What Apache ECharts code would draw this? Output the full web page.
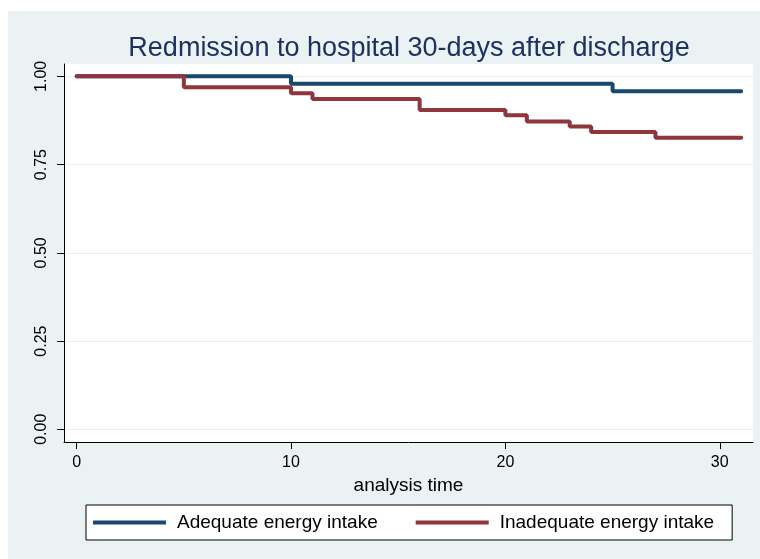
<!DOCTYPE html>
<html>
<head>
<meta charset="utf-8">
<script src="https://cdn.jsdelivr.net/npm/echarts@6/dist/echarts.min.js"></script>
<style>
  html, body { margin: 0; padding: 0; background: #ffffff; }
  #bg { position: absolute; left: 8px; top: 11px; width: 752px; height: 548px; background: #eaf2f3; }
  #chart { position: absolute; left: 0; top: 0; width: 760px; height: 559px; }
</style>
</head>
<body>
<div id="bg"></div>
<div id="chart"></div>
<script>
const titleText = 'Redmission to hospital 30-days after discharge';
const xAxisName = 'analysis time';
const seriesNames = ['Adequate energy intake', 'Inadequate energy intake'];
const xTicks = [0, 10, 20, 30];
const yTicks = [0, 0.25, 0.5, 0.75, 1.0];
const adequateTime = [0, 10, 25, 31];
const adequateSurv = [1.0, 0.979, 0.958, 0.958];
const inadequateTime = [0, 5, 10, 11, 16, 20, 21, 23, 24, 27, 31];
const inadequateSurv = [1.0, 0.969, 0.952, 0.936, 0.905, 0.890, 0.872, 0.858, 0.842, 0.826, 0.826];

const colors = ['#1a476f', '#90353b'];
const font = 'Liberation Sans, Arial, sans-serif';

const chart = echarts.init(document.getElementById('chart'), null, { renderer: 'canvas' });
const pair = (xs, ys) => xs.map((x, i) => [x, ys[i]]);

chart.setOption({
  animation: false,
  backgroundColor: 'transparent',
  title: {
    text: titleText,
    left: 404,
    top: 30,
    textAlign: 'center',
    textStyle: { fontSize: 27, fontWeight: 'normal', color: '#1e3160', fontFamily: font }
  },
  legend: {
    data: seriesNames,
    orient: 'horizontal',
    left: 86,
    top: 505,
    padding: [8, 18, 8, 7],
    backgroundColor: '#ffffff',
    borderColor: '#000000',
    borderWidth: 1,
    borderRadius: 0,
    itemGap: 38,
    itemWidth: 73,
    itemHeight: 4,
    icon: 'rect',
    textStyle: { fontSize: 19, lineHeight: 19, color: '#000', fontFamily: font, padding: [0, 0, 0, 6] }
  },
  grid: {
    left: 64, top: 64, right: 7, bottom: 117,
    show: true, backgroundColor: '#ffffff', borderWidth: 0
  },
  xAxis: {
    type: 'value',
    min: -0.59, max: 31.55,
    name: xAxisName,
    nameLocation: 'middle',
    nameGap: 32,
    nameTextStyle: { fontSize: 19, color: '#000', fontFamily: font },
    axisLine: { show: true, onZero: false, lineStyle: { color: '#000', width: 1 } },
    axisTick: { show: true, length: 7, customValues: xTicks, lineStyle: { color: '#000' } },
    axisLabel: { customValues: xTicks, fontSize: 16, color: '#000', fontFamily: font, margin: 13 },
    splitLine: { show: false }
  },
  yAxis: {
    type: 'value',
    min: -0.036, max: 1.035,
    axisLine: { show: true, onZero: false, lineStyle: { color: '#000', width: 1 } },
    axisTick: { show: true, length: 7, customValues: yTicks, lineStyle: { color: '#000' } },
    axisLabel: {
      customValues: yTicks, rotate: 90, fontSize: 16, color: '#000', fontFamily: font, margin: 14,
      formatter: v => v.toFixed(2)
    },
    splitLine: { show: true, lineStyle: { color: '#e6eef0', width: 1 } }
  },
  series: [
    {
      name: seriesNames[0], type: 'line', step: 'end', showSymbol: false, symbol: 'none',
      data: pair(adequateTime, adequateSurv),
      lineStyle: { color: colors[0], width: 4, cap: 'round' },
      itemStyle: { color: colors[0] }
    },
    {
      name: seriesNames[1], type: 'line', step: 'end', showSymbol: false, symbol: 'none',
      data: pair(inadequateTime, inadequateSurv),
      lineStyle: { color: colors[1], width: 4, cap: 'round' },
      itemStyle: { color: colors[1] }
    }
  ]
});
</script>
</body>
</html>
